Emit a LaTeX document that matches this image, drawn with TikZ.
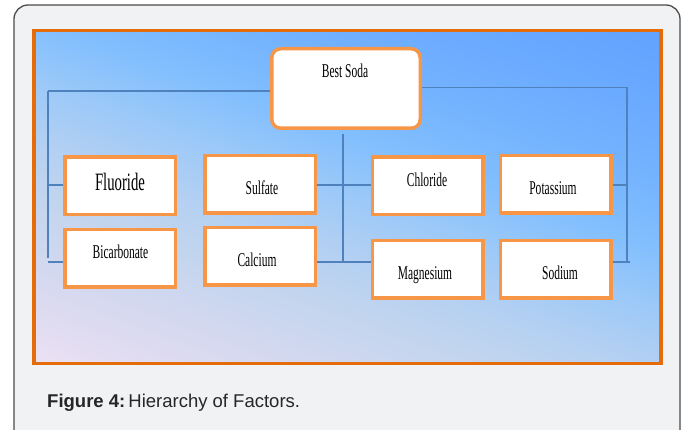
\documentclass[tikz,border=0pt]{standalone}
\usepackage{fontspec}
\newfontfamily\boxfont[FakeStretch=0.59]{Liberation Serif}
\newfontfamily\capfont{Liberation Sans}
\definecolor{boxorange}{RGB}{247,150,70}
\definecolor{frameorange}{RGB}{228,108,10}
\definecolor{linkblue}{RGB}{79,129,189}
\definecolor{panelgray}{RGB}{241,242,244}
\definecolor{bgpink}{RGB}{249,231,247}
\definecolor{bglav}{RGB}{220,218,240}
\definecolor{bggray}{RGB}{194,213,238}
\definecolor{bgsteel}{RGB}{180,208,242}
\definecolor{bgmid}{RGB}{156,201,248}
\definecolor{bgsky}{RGB}{130,191,254}
\definecolor{bgblue}{RGB}{90,156,255}
\pgfdeclarehorizontalshading{bgfade}{100bp}{color(0bp)=(bgpink); color(12bp)=(bgpink); color(25bp)=(bglav); color(37bp)=(bggray); color(43bp)=(bgsteel); color(50bp)=(bgmid); color(57bp)=(bgsky); color(65bp)=(bgsky!65!bgblue); color(77bp)=(bgsky!30!bgblue); color(90bp)=(bgblue); color(100bp)=(bgblue)}

\begin{document}
\begin{tikzpicture}[x=1pt,y=-1pt,
  box/.style={draw=boxorange,line width=3.5pt,fill=white,inner sep=0,minimum width=110.5pt,minimum height=57.5pt},
  txt/.style={anchor=base,inner sep=0,font=\boxfont\fontsize{19.5pt}{20pt}\selectfont},
  link/.style={draw=linkblue,line width=1.6pt}]
\useasboundingbox (0,0) rectangle (683,430);
\clip (0,0) rectangle (683,430);
\fill[white] (0,0) rectangle (683,430);
\draw[fill=panelgray,draw=black!70,line width=1.3pt,rounded corners=14pt] (14,5) rectangle (680,445);
\shade[shading=bgfade,shading angle=70] (34,30.5) rectangle (661,363.5);
\draw[frameorange,line width=3.5pt] (34,30.5) rectangle (661,363.5);
\coordinate (uprow) at (0,185);
\coordinate (lowrow) at (0,262);
\coordinate (lt) at (48,91);
\coordinate (rt) at (627,87.5);
\coordinate (mid) at (343,134);
\draw[link] (lt) -- (48,258);
\draw[link] (rt) -- (627,262);
\draw[link] (mid) -- (343,262);
\node[box,rounded corners=9pt,minimum width=148.5pt,minimum height=79.5pt] (soda) at (346,88.5) {};
\node[box] (fluoride) at (120,186) {};
\node[box] (sulfate) at (260,184.5) {};
\node[box] (bicarb) at (120,258.5) {};
\node[box] (calcium) at (260,256.5) {};
\node[box] (chloride) at (427.5,186) {};
\node[box] (potassium) at (555.5,184.5) {};
\node[box] (magnesium) at (427.5,269.5) {};
\node[box] (sodium) at (555.5,269.5) {};
\draw[link] ([yshift=-2.5pt]soda.west) -- (lt);
\draw[link] ([yshift=1pt]soda.east) -- (rt);
\draw[link] (fluoride.west |- uprow) -- (lt |- uprow);
\draw[link] (bicarb.west |- lowrow) -- (lt |- lowrow);
\draw[link] (sulfate.east |- uprow) -- (chloride.west |- uprow);
\draw[link] (calcium.east |- lowrow) -- (magnesium.west |- lowrow);
\draw[link] (potassium.east |- uprow) -- (rt |- uprow);
\draw[link] (sodium.east |- lowrow) -- ([xshift=3pt]rt |- lowrow);
\node[txt] (soda-t) at (345,78) {Best Soda};
\node[txt,font=\boxfont\fontsize{25pt}{26pt}\selectfont] (fluoride-t) at (120,191) {Fluoride};
\node[txt] (sulfate-t) at (262,195) {Sulfate};
\node[txt] (bicarb-t) at (120.5,259) {Bicarbonate};
\node[txt] (calcium-t) at (257,266.5) {Calcium};
\node[txt] (chloride-t) at (427,186.5) {Chloride};
\node[txt] (potassium-t) at (553,195) {Potassium};
\node[txt] (magnesium-t) at (425,280) {Magnesium};
\node[txt] (sodium-t) at (560,280) {Sodium};
\node[anchor=base west,inner sep=0,text=black!85,font=\capfont\fontsize{18.5pt}{20pt}\selectfont] (caption) at (47,407.5) {\textbf{Figure 4:}\,Hierarchy of Factors.};
\end{tikzpicture}
\end{document}
